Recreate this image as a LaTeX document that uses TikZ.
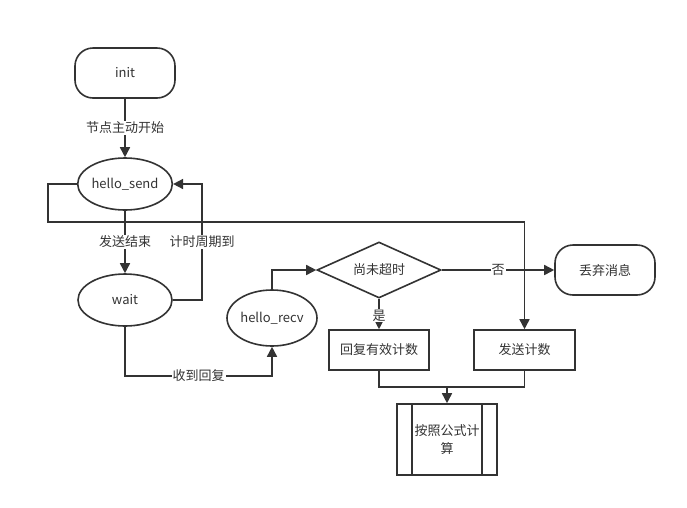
\documentclass[tikz,border=0pt]{standalone}
\usepackage{fontspec}
\setmainfont{Noto Sans CJK SC}
\usetikzlibrary{shapes.geometric,arrows.meta,positioning}
\definecolor{ln}{HTML}{333333}
\tikzset{
  every node/.style={font=\fontsize{13}{18}\selectfont, text=ln},
  base/.style={draw=ln, line width=1.6pt, inner sep=0pt},
  term/.style={base, rounded corners=18pt, minimum width=100pt, minimum height=50pt},
  ell/.style={base, ellipse, minimum width=94pt, minimum height=52pt},
  proc/.style={base, rectangle, minimum width=100pt, minimum height=40pt},
  dec/.style={base, diamond, aspect=2.2, minimum width=124pt, minimum height=56pt},
  conn/.style={draw=ln, line width=1.6pt, -{Triangle[length=10pt,width=10pt]}},
  plain/.style={draw=ln, line width=1.6pt},
  lab/.style={fill=white, inner sep=1pt}
}
\begin{document}
\begin{tikzpicture}[x=1pt,y=-1pt]
\useasboundingbox[fill=white] (0,0) rectangle (687,507);
\node[term] (init) at (125,73) {init};
\node[ell] (send) at (125,184) {hello\_send};
\node[ell] (wait) at (125,300) {wait};
\node[ell, minimum width=90pt, minimum height=56pt] (recv) at (272,318) {hello\_recv};
\node[dec] (dec) at (379,270) {尚未超时};
\node[term] (drop) at (605,270) {丢弃消息};
\node[proc] (valid) at (379,350) {回复有效计数};
\node[proc, minimum width=101pt] (cnt) at (524.5,350) {发送计数};
\node[base, minimum width=100pt, minimum height=71pt, align=center, text width=70pt] (calc) at (447,439.5) {按照公式计\\算};
\draw[plain] ([xshift=16pt]calc.north west) -- ([xshift=16pt]calc.south west);
\draw[plain] ([xshift=-16pt]calc.north east) -- ([xshift=-16pt]calc.south east);

\coordinate (c1) at (48,184);
\coordinate (c2) at (48,222);
\coordinate (c3) at (524.5,222);
\coordinate (w1) at (202,300);
\coordinate (w2) at (202,184);
\coordinate (b1) at (125,376);
\coordinate (b2) at (272,376);
\coordinate (r1) at (272,270);
\coordinate (m1) at (379,387);
\coordinate (m2) at (524.5,387);
\coordinate (m3) at (447,387);

\draw[conn] (init) -- node[lab, pos=0.5] {节点主动开始} (send);
\draw[conn] (send) -- node[lab, pos=0.5] {发送结束} (wait);
\draw[conn] (wait.east) -- (w1) -- node[lab, pos=0.5] {计时周期到} (w2) -- (send.east);
\draw[conn] (wait) -- (b1) -- node[lab, pos=0.5] {收到回复} (b2) -- (recv);
\draw[conn] (recv) -- (r1) -- (dec.west);
\draw[conn] (dec.east) -- node[lab, pos=0.5] {否} (drop.west);
\draw[conn] (dec.south) -- node[lab, pos=0.55] {是} (valid.north);
\draw[conn] (send.west) -- (c1) -- (c2) -- (c3) -- (cnt.north);
\draw[plain] (valid.south) -- (m1) -- (m2) -- (cnt.south);
\draw[conn] (m3) -- (calc.north);
\end{tikzpicture}
\end{document}
